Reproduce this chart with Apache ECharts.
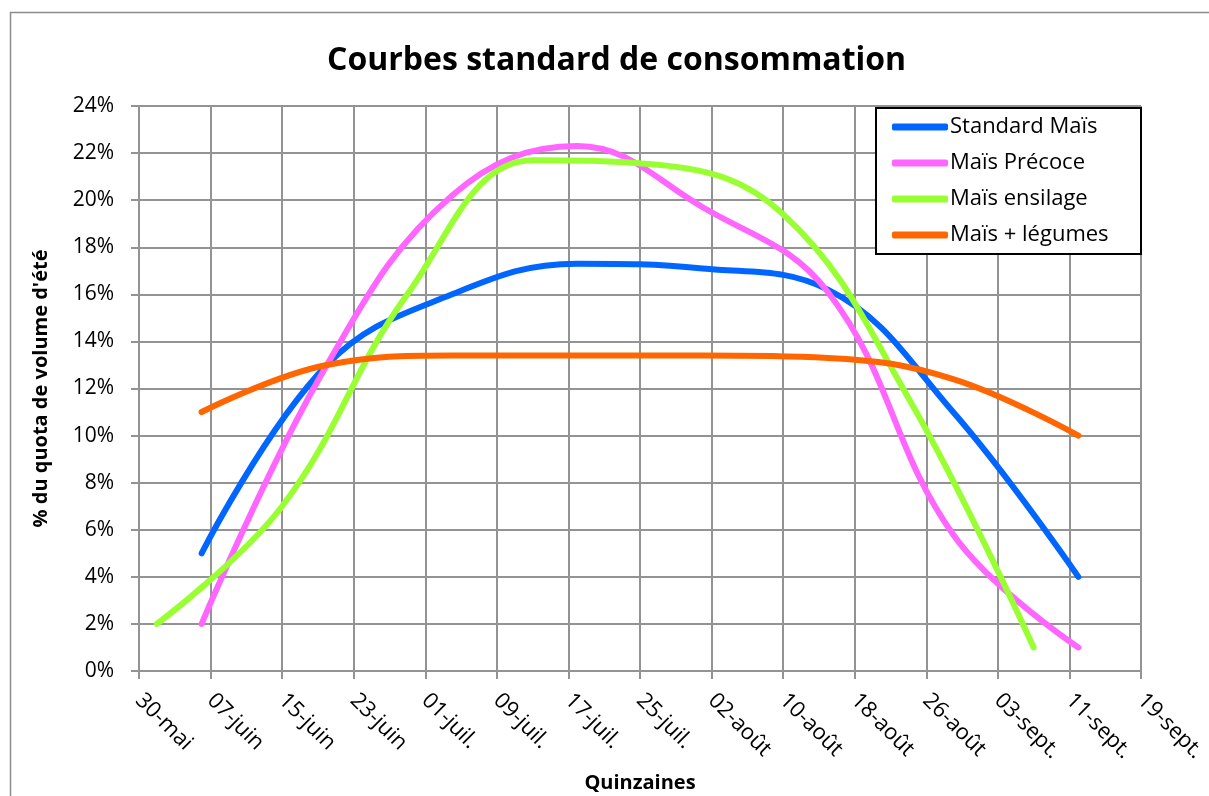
<!DOCTYPE html>
<html>
<head>
<meta charset="utf-8">
<title>Courbes standard de consommation</title>
<script src="https://cdn.jsdelivr.net/npm/echarts@6/dist/echarts.min.js"></script>
<style>
  html, body { margin: 0; padding: 0; background: #fff; }
  #chart { width: 1209px; height: 796px; }
</style>
</head>
<body>
<div id="chart"></div>
<script>
// axe des x : graduations tous les 8 jours depuis le 30 mai
var tickLabels = ['30-mai', '07-juin', '15-juin', '23-juin', '01-juil.', '09-juil.', '17-juil.',
  '25-juil.', '02-août', '10-août', '18-août', '26-août', '03-sept.', '11-sept.', '19-sept.'];
var yTicks = [0, 2, 4, 6, 8, 10, 12, 14, 16, 18, 20, 22, 24];

// quinzaines (mois-jour)
var datesMain = ['06-06', '06-20', '07-04', '07-18', '08-01', '08-15', '08-29', '09-12'];
var datesEnsilage = ['06-01', '06-15', '06-29', '07-13', '07-27', '08-10', '08-24', '09-07'];

// % du quota de volume d'été
var standardMais = [5, 13, 16, 17.3, 17.1, 16.2, 11, 4];
var maisPrecoce = [2, 13, 20.2, 22.3, 19.7, 16.1, 5.8, 1];
var maisEnsilage = [2, 7, 16, 21.7, 21.5, 19.4, 11.6, 1];
var maisLegumes = [11, 13, 13.4, 13.4, 13.4, 13.3, 12.4, 10];

var seriesNames = ['Standard Maïs', 'Maïs Précoce', 'Maïs ensilage', 'Maïs + légumes'];
var colors = ['#0066ff', '#ff66ff', '#99ff33', '#ff6600'];

function dayOffset(md) {
  var p = md.split('-');
  var start = Date.UTC(2011, 4, 30);
  return Math.round((Date.UTC(2011, +p[0] - 1, +p[1]) - start) / 86400000);
}

function pairs(dates, values) {
  return values.map(function (v, i) { return [dayOffset(dates[i]), v]; });
}

var FONT = '"Open Sans", "DejaVu Sans", sans-serif';
var gridColor = '#939393';

var chart = echarts.init(document.getElementById('chart'));

function lineSeries(name, data, color) {
  return {
    name: name,
    type: 'line',
    data: data,
    smooth: 0.4,
    symbol: 'none',
    showSymbol: false,
    color: color,
    lineStyle: { color: color, width: 6, cap: 'round', join: 'round' },
    animation: false
  };
}

chart.setOption({
  animation: false,
  backgroundColor: '#fff',
  graphic: [{
    type: 'rect',
    shape: { x: 10.5, y: 12.5, width: 1300, height: 900 },
    style: { fill: 'none', stroke: '#8c8c8c', lineWidth: 1.5 },
    silent: true
  }],
  title: {
    text: 'Courbes standard de consommation',
    left: 322,
    top: 40,
    textStyle: { fontFamily: FONT, fontSize: 32, fontWeight: 'bold', color: '#000' }
  },
  legend: {
    orient: 'vertical',
    left: 876,
    top: 108,
    padding: [7, 18, 7, 16],
    itemGap: 12,
    itemWidth: 56,
    itemHeight: 7,
    icon: 'roundRect',
    backgroundColor: '#fff',
    borderColor: '#000',
    borderWidth: 2,
    textStyle: {
      fontFamily: FONT, fontSize: 22, color: '#000', lineHeight: 24,
      width: 173, padding: [0, 0, 0, -3]
    },
    data: seriesNames
  },
  grid: { left: 139, right: 68, top: 106, bottom: 125, containLabel: false, outerBoundsMode: 'none' },
  xAxis: {
    type: 'value',
    min: 0,
    max: (tickLabels.length - 1) * 8,
    interval: 8,
    name: 'Quinzaines',
    nameLocation: 'middle',
    nameGap: 102,
    nameTextStyle: { fontFamily: FONT, fontSize: 20, fontWeight: 'bold', color: '#000' },
    axisLine: { show: true, lineStyle: { color: gridColor, width: 2 } },
    axisTick: { show: true, length: 8, lineStyle: { color: gridColor, width: 2 } },
    splitLine: { show: true, lineStyle: { color: gridColor, width: 2 } },
    axisLabel: {
      rotate: -45,
      margin: 26,
      fontFamily: FONT,
      fontSize: 22,
      color: '#000',
      formatter: function (v) { return tickLabels[Math.round(v / 8)]; }
    }
  },
  yAxis: {
    type: 'value',
    min: yTicks[0],
    max: yTicks[yTicks.length - 1],
    interval: 2,
    name: "% du quota de volume d'été",
    nameLocation: 'middle',
    nameGap: 88,
    nameTextStyle: { fontFamily: FONT, fontSize: 20, fontWeight: 'bold', color: '#000' },
    axisLine: { show: true, lineStyle: { color: gridColor, width: 2 } },
    axisTick: { show: true, length: 8, lineStyle: { color: gridColor, width: 2 } },
    splitLine: { show: true, lineStyle: { color: gridColor, width: 2 } },
    axisLabel: {
      margin: 25,
      fontFamily: FONT,
      fontSize: 21,
      color: '#000',
      formatter: '{value}%'
    }
  },
  series: [
    lineSeries(seriesNames[0], pairs(datesMain, standardMais), colors[0]),
    lineSeries(seriesNames[1], pairs(datesMain, maisPrecoce), colors[1]),
    lineSeries(seriesNames[2], pairs(datesEnsilage, maisEnsilage), colors[2]),
    lineSeries(seriesNames[3], pairs(datesMain, maisLegumes), colors[3])
  ]
});
</script>
</body>
</html>
